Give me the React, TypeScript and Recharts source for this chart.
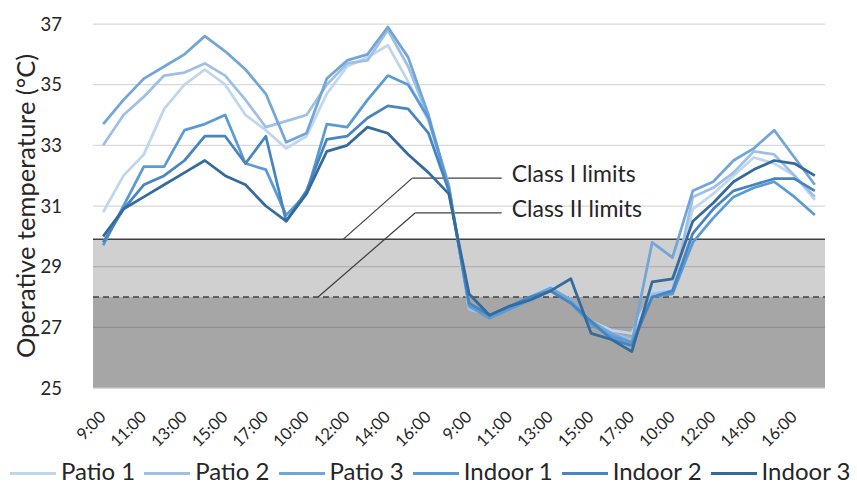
import {
  LineChart,
  Line,
  XAxis,
  YAxis,
  CartesianGrid,
  ReferenceArea,
  ReferenceLine,
  ReferenceDot,
  Legend,
} from "recharts";

// hourly readings, four days of monitoring
const HOURS = ["9:00", "10:00", "11:00", "12:00", "13:00", "14:00", "15:00", "16:00", "17:00"];
const TIMES = [...HOURS, ...HOURS, ...HOURS, ...HOURS];
const X_TICKS = [0, 2, 4, 6, 8, 10, 12, 14, 16, 18, 20, 22, 24, 26, 28, 30, 32, 34];
const Y_TICKS = [25, 27, 29, 31, 33, 35, 37];

// comfort limits (°C)
const CLASS_I = 29.9;
const CLASS_II = 28;

const PATIO_1 = [
  30.8, 32.0, 32.7, 34.2, 35.0, 35.5, 35.0, 34.0, 33.5,
  32.9, 33.3, 34.7, 35.6, 35.9, 36.3, 35.1, 33.8, 31.6,
  27.6, 27.4, 27.7, 28.0, 28.4, 27.9, 27.2, 26.9, 26.8,
  28.2, 28.3, 30.9, 31.4, 32.0, 32.6, 32.4, 32.0, 31.2,
];
const PATIO_2 = [
  33.0, 34.0, 34.6, 35.3, 35.4, 35.7, 35.3, 34.5, 33.6,
  33.8, 34.0, 35.0, 35.7, 35.8, 36.8, 35.6, 33.9, 31.7,
  27.6, 27.4, 27.7, 28.0, 28.3, 27.9, 27.1, 26.8, 26.6,
  28.1, 28.2, 31.3, 31.6, 32.1, 32.8, 32.7, 32.0, 31.3,
];
const PATIO_3 = [
  33.7, 34.5, 35.2, 35.6, 36.0, 36.6, 36.1, 35.5, 34.7,
  33.1, 33.4, 35.2, 35.8, 36.0, 36.9, 35.9, 34.0, 31.6,
  27.7, 27.4, 27.7, 28.0, 28.3, 27.9, 27.2, 26.8, 26.5,
  29.8, 29.3, 31.5, 31.8, 32.5, 32.9, 33.5, 32.6, 31.7,
];
const INDOOR_1 = [
  29.7, 31.0, 32.3, 32.3, 33.5, 33.7, 34.0, 32.4, 32.2,
  30.7, 31.4, 33.7, 33.6, 34.5, 35.3, 35.0, 33.9, 31.6,
  27.7, 27.3, 27.6, 27.9, 28.2, 27.8, 27.1, 26.7, 26.5,
  28.0, 28.1, 29.8, 30.6, 31.3, 31.6, 31.8, 31.3, 30.7,
];
const INDOOR_2 = [
  29.8, 30.9, 31.7, 32.0, 32.5, 33.3, 33.3, 32.4, 33.3,
  30.5, 31.5, 33.2, 33.3, 33.9, 34.3, 34.2, 33.4, 31.5,
  27.8, 27.4, 27.7, 28.0, 28.2, 27.8, 27.2, 26.6, 26.4,
  28.0, 28.2, 30.1, 30.9, 31.5, 31.7, 31.9, 31.9, 31.5,
];
const INDOOR_3 = [
  30.0, 30.9, 31.3, 31.7, 32.1, 32.5, 32.0, 31.7, 31.0,
  30.5, 31.4, 32.8, 33.0, 33.6, 33.4, 32.7, 32.1, 31.4,
  28.1, 27.4, 27.7, 27.9, 28.2, 28.6, 26.8, 26.6, 26.2,
  28.5, 28.6, 30.5, 31.1, 31.8, 32.2, 32.5, 32.4, 32.0,
];

const SERIES = [
  { key: "patio1", name: "Patio 1", color: "#bfd6ee", values: PATIO_1 },
  { key: "patio2", name: "Patio 2", color: "#9ec0e5", values: PATIO_2 },
  { key: "patio3", name: "Patio 3", color: "#72a5d8", values: PATIO_3 },
  { key: "indoor1", name: "Indoor 1", color: "#5b9bd5", values: INDOOR_1 },
  { key: "indoor2", name: "Indoor 2", color: "#4884c0", values: INDOOR_2 },
  { key: "indoor3", name: "Indoor 3", color: "#356a9c", values: INDOOR_3 },
];

const data = TIMES.map((time, i) => {
  const row: Record<string, number | string> = { i, time };
  SERIES.forEach((s) => {
    row[s.key] = s.values[i];
  });
  return row;
});

const FONT = "Lato, 'Open Sans', sans-serif";
const TEXT = "#262626";
const LEADER = "#404040";

function TimeTick(props: any) {
  const { x, y, payload } = props;
  const ax = x + 3.5;
  const ay = y + 30;
  return (
    <text
      x={ax}
      y={ay}
      transform={`rotate(-45 ${ax} ${ay})`}
      textAnchor="end"
      fontSize={16.5}
      fontFamily={FONT}
      fill={TEXT}
    >
      {TIMES[payload.value]}
    </text>
  );
}

const limitLabel = (text: string) => (props: any) => {
  const { viewBox } = props;
  return (
    <text x={viewBox.x + 10} y={viewBox.y + 4} fontSize={23} fontFamily={FONT} fill={TEXT}>
      {text}
    </text>
  );
};

// keeps the series order (the default legend sorts by name)
function LegendRow() {
  return (
    <div style={{ display: "flex", alignItems: "center", fontFamily: FONT, fontSize: 24, color: TEXT }}>
      {SERIES.map((s) => (
        <div key={s.key} style={{ display: "flex", alignItems: "center", marginRight: 9 }}>
          <div style={{ width: 46, height: 3, background: s.color, marginRight: 5, marginTop: 6 }} />
          <span style={{ whiteSpace: "nowrap" }}>{s.name}</span>
        </div>
      ))}
    </div>
  );
}

export default function App() {
  return (
    <div style={{ position: "absolute", left: 0, top: 0, width: 857, height: 485, background: "#fff" }}>
      <LineChart width={857} height={485} data={data} margin={{ top: 24, right: 32, bottom: 37, left: 0 }}>
        <CartesianGrid vertical={false} stroke="#d9d9d9" strokeWidth={1.25} />
        <ReferenceArea y1={25} y2={CLASS_II} fill="#000" fillOpacity={0.35} stroke="none" />
        <ReferenceArea y1={CLASS_II} y2={CLASS_I} fill="#000" fillOpacity={0.185} stroke="none" />
        <XAxis
          dataKey="i"
          type="number"
          domain={[-0.5, 35.5]}
          ticks={X_TICKS}
          interval={0}
          height={60}
          tickLine={false}
          tickSize={0}
          tickMargin={0}
          axisLine={{ stroke: "#d9d9d9", strokeWidth: 1.25 }}
          tick={<TimeTick />}
        />
        <YAxis
          domain={[25, 37]}
          ticks={Y_TICKS}
          width={93}
          axisLine={false}
          tickLine={false}
          tickSize={0}
          tickMargin={31}
          tick={{ fontSize: 18.5, fill: TEXT, fontFamily: FONT }}
          label={{
            value: "Operative temperature (°C)",
            angle: -90,
            position: "center",
            dx: -21,
            style: { fontSize: 25.5, fill: TEXT, fontFamily: FONT, textAnchor: "middle" },
          }}
        />
        <ReferenceLine y={CLASS_I} stroke={LEADER} strokeWidth={1.5} />
        <ReferenceLine y={CLASS_II} stroke={LEADER} strokeWidth={1.5} strokeDasharray="6 4" />
        <ReferenceLine
          segment={[{ x: 11.8, y: CLASS_I }, { x: 15.2, y: 31.92 }]}
          stroke={LEADER}
          strokeWidth={1.25}
        />
        <ReferenceLine
          segment={[{ x: 15.2, y: 31.92 }, { x: 19.6, y: 31.92 }]}
          stroke={LEADER}
          strokeWidth={1.25}
        />
        <ReferenceLine
          segment={[{ x: 10.57, y: CLASS_II }, { x: 15.34, y: 30.77 }]}
          stroke={LEADER}
          strokeWidth={1.25}
        />
        <ReferenceLine
          segment={[{ x: 15.34, y: 30.77 }, { x: 19.6, y: 30.77 }]}
          stroke={LEADER}
          strokeWidth={1.25}
        />
        <ReferenceDot x={19.6} y={31.92} r={0} fillOpacity={0} strokeOpacity={0} label={limitLabel("Class I limits")} />
        <ReferenceDot x={19.6} y={30.77} r={0} fillOpacity={0} strokeOpacity={0} label={limitLabel("Class II limits")} />
        {SERIES.map((s) => (
          <Line
            key={s.key}
            dataKey={s.key}
            name={s.name}
            type="linear"
            stroke={s.color}
            strokeWidth={2.75}
            strokeLinejoin="round"
            dot={false}
            activeDot={false}
            isAnimationActive={false}
          />
        ))}
        <Legend
          layout="horizontal"
          verticalAlign="middle"
          align="center"
          wrapperStyle={{ left: 10, top: 456, width: 847, height: 29 }}
          content={<LegendRow />}
        />
      </LineChart>
    </div>
  );
}
